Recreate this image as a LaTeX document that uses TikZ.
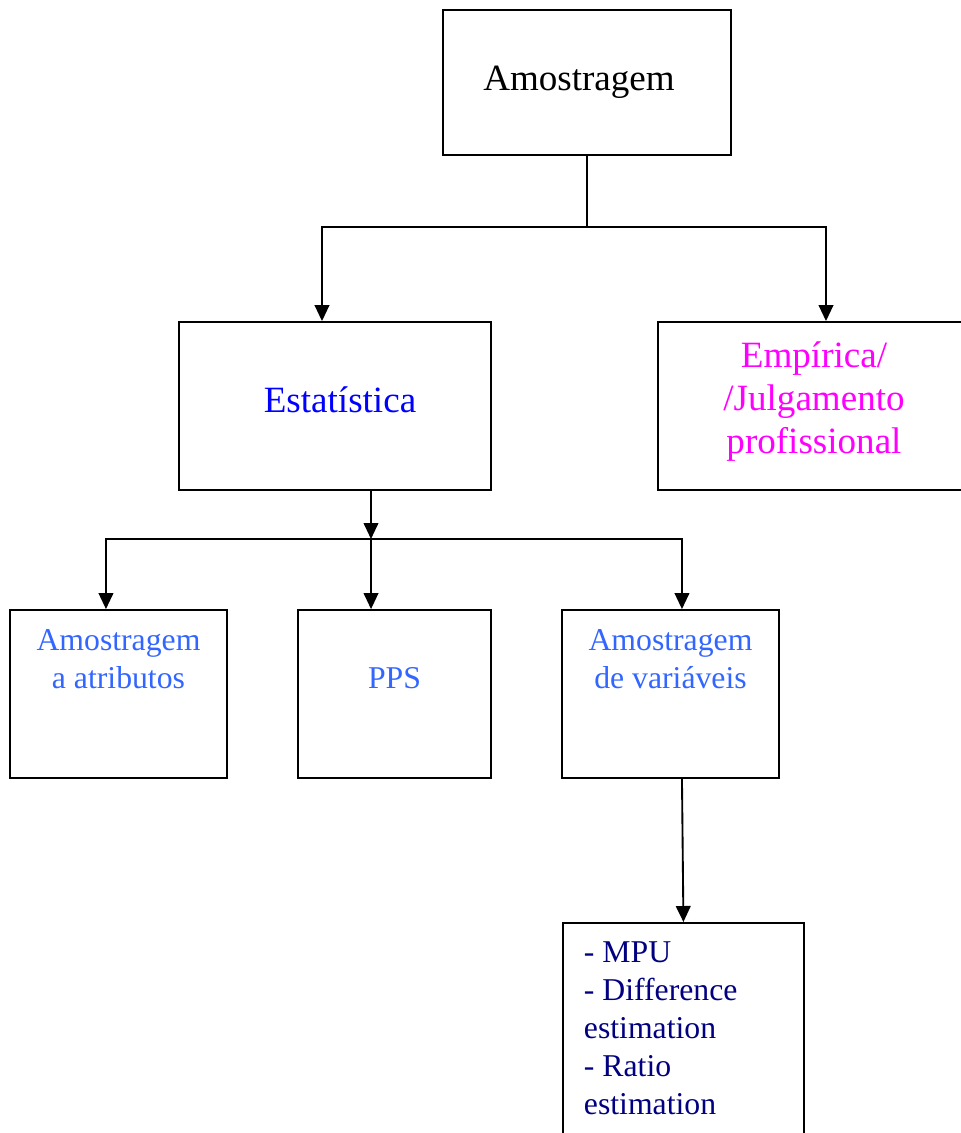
\documentclass[tikz,border=0pt]{standalone}
\usepackage{fontspec}
\setmainfont{Liberation Serif}
\usetikzlibrary{arrows.meta,positioning}
\definecolor{lightblue}{RGB}{51,102,255}
\definecolor{navyblue}{RGB}{0,0,128}
\definecolor{pinkmagenta}{RGB}{255,0,255}
\definecolor{pureblue}{RGB}{0,0,255}

\begin{document}
\begin{tikzpicture}[x=0.75pt,y=-0.75pt,>={Triangle[width=11pt,length=12pt]},line width=1.4pt,
    box node/.style={draw,rectangle,inner sep=0pt,align=center},
    big text/.style={font=\fontsize{27.8}{32}\selectfont,inner sep=0pt,align=center},
    small text/.style={font=\fontsize{23.8}{28.5}\selectfont,inner sep=0pt,align=center}]
            \useasboundingbox (0,0) rectangle (961,1133);

            \node[box node,big text,minimum width=216pt,minimum height=108.75pt] (1) at (587,82.5) {Amostragem\hspace*{12pt}};
            \node[box node,minimum width=234pt,minimum height=126pt] (2) at (335,406) {};
            \node[box node,minimum width=234pt,minimum height=126pt] (3) at (814,406) {};

            \node[box node,minimum width=162.75pt,minimum height=126pt] (4) at (118.5,694) {};
            \node[box node,minimum width=144.75pt,minimum height=126pt] (5) at (394.5,694) {};
            \node[box node,minimum width=162.75pt,minimum height=126pt] (6) at (670.5,694) {};
            \node[box node,anchor=north west,minimum width=180.75pt,minimum height=180pt] (7) at (562,922) {};

            % texts of the boxes
            \node[big text,text=pureblue] (2t) at (340,400) {Estatística};
            \node[big text,text=pinkmagenta] (3t) at (814,401.5) {Empírica/\\/Julgamento\\profissional};
            \node[small text,text=lightblue,below=15pt of 4.north] (4t) {Amostragem\\a atributos};
            \node[small text,text=lightblue,below=42.75pt of 5.north] (5t) {PPS};
            \node[small text,text=lightblue,below=15pt of 6.north] (6t) {Amostragem\\de variáveis};
            \node[small text,text=navyblue,align=left,anchor=north west] (7t) at (583,941) {- MPU\\- Difference\\estimation\\- Ratio\\estimation};

            \coordinate (j1) at ([yshift=-53.25pt]1.south);
            \coordinate (j2) at (371,539);

            \draw (1.south) -- (j1);
            \draw[->] (j1) -| ([xshift=-9.75pt]2.north);
            \draw[->] (j1) -| ([xshift=9pt]3.north);
            \draw[->] ([xshift=27pt]2.south) -- (j2);
            \draw[->] (j2) -| ([xshift=-9.4pt]4.north);
            \draw[->] (j2) -- ([xshift=-17.6pt]5.north);
            \draw[->] (j2) -| ([xshift=8.6pt]6.north);
            \draw[->] ([xshift=8.6pt]6.south) -- (7.north);
        \end{tikzpicture}
\end{document}
